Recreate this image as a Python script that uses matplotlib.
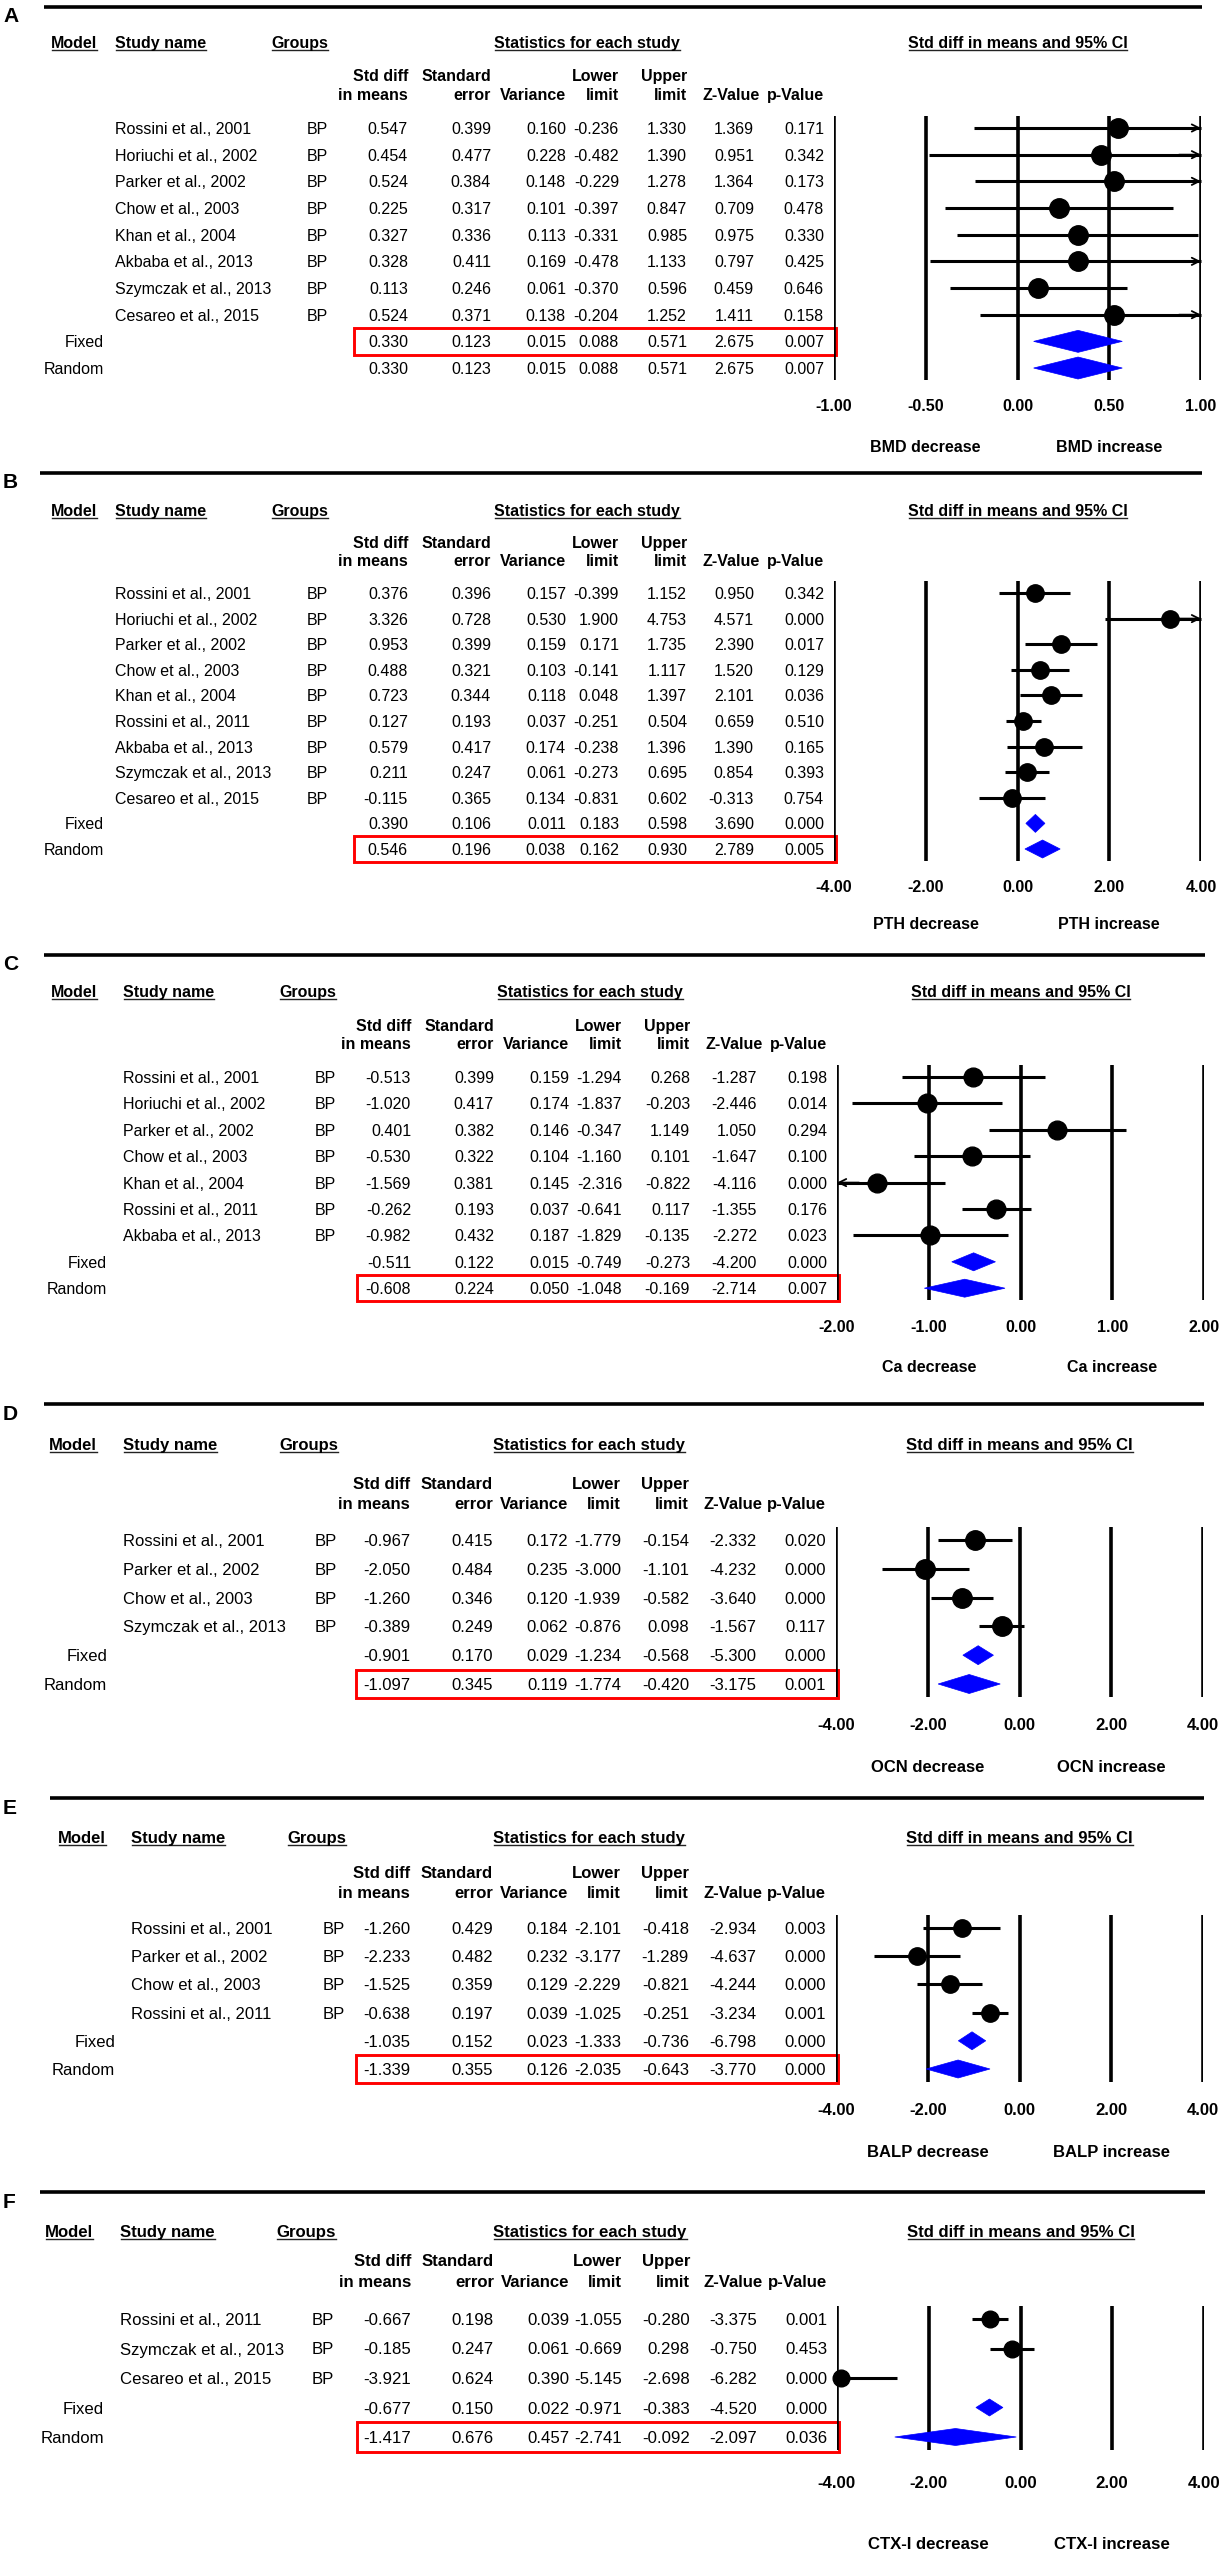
import matplotlib
matplotlib.use("Agg")
import matplotlib.pyplot as plt
from matplotlib.patches import Polygon, Rectangle

plt.rcParams['font.family'] = ['Liberation Sans', 'DejaVu Sans']

W, H, DPI = 1221, 2550, 100
PX = 72.0 / DPI  # points per pixel

# ------------------------------------------------------------------ data
MODELS = ["Fixed", "Random"]
GROUP = "BP"

A_names = ["Rossini et al., 2001", "Horiuchi et al., 2002", "Parker et al., 2002", "Chow et al., 2003",
           "Khan et al., 2004", "Akbaba et al., 2013", "Szymczak et al., 2013", "Cesareo et al., 2015"]
A_est = [0.547, 0.454, 0.524, 0.225, 0.327, 0.328, 0.113, 0.524, 0.330, 0.330]
A_se = [0.399, 0.477, 0.384, 0.317, 0.336, 0.411, 0.246, 0.371, 0.123, 0.123]
A_var = [0.160, 0.228, 0.148, 0.101, 0.113, 0.169, 0.061, 0.138, 0.015, 0.015]
A_lo = [-0.236, -0.482, -0.229, -0.397, -0.331, -0.478, -0.370, -0.204, 0.088, 0.088]
A_hi = [1.330, 1.390, 1.278, 0.847, 0.985, 1.133, 0.596, 1.252, 0.571, 0.571]
A_z = [1.369, 0.951, 1.364, 0.709, 0.975, 0.797, 0.459, 1.411, 2.675, 2.675]
A_p = [0.171, 0.342, 0.173, 0.478, 0.330, 0.425, 0.646, 0.158, 0.007, 0.007]

B_names = ["Rossini et al., 2001", "Horiuchi et al., 2002", "Parker et al., 2002", "Chow et al., 2003",
           "Khan et al., 2004", "Rossini et al., 2011", "Akbaba et al., 2013", "Szymczak et al., 2013",
           "Cesareo et al., 2015"]
B_est = [0.376, 3.326, 0.953, 0.488, 0.723, 0.127, 0.579, 0.211, -0.115, 0.390, 0.546]
B_se = [0.396, 0.728, 0.399, 0.321, 0.344, 0.193, 0.417, 0.247, 0.365, 0.106, 0.196]
B_var = [0.157, 0.530, 0.159, 0.103, 0.118, 0.037, 0.174, 0.061, 0.134, 0.011, 0.038]
B_lo = [-0.399, 1.900, 0.171, -0.141, 0.048, -0.251, -0.238, -0.273, -0.831, 0.183, 0.162]
B_hi = [1.152, 4.753, 1.735, 1.117, 1.397, 0.504, 1.396, 0.695, 0.602, 0.598, 0.930]
B_z = [0.950, 4.571, 2.390, 1.520, 2.101, 0.659, 1.390, 0.854, -0.313, 3.690, 2.789]
B_p = [0.342, 0.000, 0.017, 0.129, 0.036, 0.510, 0.165, 0.393, 0.754, 0.000, 0.005]

C_names = ["Rossini et al., 2001", "Horiuchi et al., 2002", "Parker et al., 2002", "Chow et al., 2003",
           "Khan et al., 2004", "Rossini et al., 2011", "Akbaba et al., 2013"]
C_est = [-0.513, -1.020, 0.401, -0.530, -1.569, -0.262, -0.982, -0.511, -0.608]
C_se = [0.399, 0.417, 0.382, 0.322, 0.381, 0.193, 0.432, 0.122, 0.224]
C_var = [0.159, 0.174, 0.146, 0.104, 0.145, 0.037, 0.187, 0.015, 0.050]
C_lo = [-1.294, -1.837, -0.347, -1.160, -2.316, -0.641, -1.829, -0.749, -1.048]
C_hi = [0.268, -0.203, 1.149, 0.101, -0.822, 0.117, -0.135, -0.273, -0.169]
C_z = [-1.287, -2.446, 1.050, -1.647, -4.116, -1.355, -2.272, -4.200, -2.714]
C_p = [0.198, 0.014, 0.294, 0.100, 0.000, 0.176, 0.023, 0.000, 0.007]

D_names = ["Rossini et al., 2001", "Parker et al., 2002", "Chow et al., 2003", "Szymczak et al., 2013"]
D_est = [-0.967, -2.050, -1.260, -0.389, -0.901, -1.097]
D_se = [0.415, 0.484, 0.346, 0.249, 0.170, 0.345]
D_var = [0.172, 0.235, 0.120, 0.062, 0.029, 0.119]
D_lo = [-1.779, -3.000, -1.939, -0.876, -1.234, -1.774]
D_hi = [-0.154, -1.101, -0.582, 0.098, -0.568, -0.420]
D_z = [-2.332, -4.232, -3.640, -1.567, -5.300, -3.175]
D_p = [0.020, 0.000, 0.000, 0.117, 0.000, 0.001]

E_names = ["Rossini et al., 2001", "Parker et al., 2002", "Chow et al., 2003", "Rossini et al., 2011"]
E_est = [-1.260, -2.233, -1.525, -0.638, -1.035, -1.339]
E_se = [0.429, 0.482, 0.359, 0.197, 0.152, 0.355]
E_var = [0.184, 0.232, 0.129, 0.039, 0.023, 0.126]
E_lo = [-2.101, -3.177, -2.229, -1.025, -1.333, -2.035]
E_hi = [-0.418, -1.289, -0.821, -0.251, -0.736, -0.643]
E_z = [-2.934, -4.637, -4.244, -3.234, -6.798, -3.770]
E_p = [0.003, 0.000, 0.000, 0.001, 0.000, 0.000]

F_names = ["Rossini et al., 2011", "Szymczak et al., 2013", "Cesareo et al., 2015"]
F_est = [-0.667, -0.185, -3.921, -0.677, -1.417]
F_se = [0.198, 0.247, 0.624, 0.150, 0.676]
F_var = [0.039, 0.061, 0.390, 0.022, 0.457]
F_lo = [-1.055, -0.669, -5.145, -0.971, -2.741]
F_hi = [-0.280, 0.298, -2.698, -0.383, -0.092]
F_z = [-3.375, -0.750, -6.282, -4.520, -2.097]
F_p = [0.001, 0.453, 0.000, 0.000, 0.036]

A_ticks = [-1.0, -0.5, 0.0, 0.5, 1.0]
B_ticks = [-4.0, -2.0, 0.0, 2.0, 4.0]
C_ticks = [-2.0, -1.0, 0.0, 1.0, 2.0]
D_ticks = [-4.0, -2.0, 0.0, 2.0, 4.0]
E_ticks = [-4.0, -2.0, 0.0, 2.0, 4.0]
F_ticks = [-4.0, -2.0, 0.0, 2.0, 4.0]

OUTCOMES = ["BMD", "PTH", "Ca", "OCN", "BALP", "CTX-I"]
HIGHLIGHT = ["Fixed", "Random", "Random", "Random", "Random", "Random"]

COL_HEAD1 = ["Std diff", "Standard", "", "Lower", "Upper", "", ""]
COL_HEAD2 = ["in means", "error", "Variance", "limit", "limit", "Z-Value", "p-Value"]

# ------------------------------------------------------------------ layout (pixels)
# line: top rule y; head: header y; first: first row y; sp: row spacing;
# tick / dec: offsets of tick labels / direction labels below last row
LAYOUT = {
    "A": dict(line=7, head=42, first=128, sp=26.67, tick=37, dec=78, fs=16.0, ms=14, dh=11, dx=0,
              mx=51, sx=115, fr=104, gx=271, lx0=44),
    "B": dict(line=473, head=510, first=593, sp=25.6, tick=37, dec=74, fs=16.0, ms=12.5, dh=9, dx=0,
              mx=51, sx=115, fr=104, gx=271, lx0=40),
    "C": dict(line=955, head=991, first=1077, sp=26.4, tick=38, dec=78, fs=16.0, ms=13.5, dh=9, dx=3,
              mx=51, sx=123, fr=107, gx=279, lx0=44),
    "D": dict(line=1404, head=1444, first=1540, sp=28.8, tick=40, dec=82, fs=16.6, ms=14, dh=9.5, dx=2,
              mx=49, sx=123, fr=107, gx=279, lx0=44),
    "E": dict(line=1798, head=1837, first=1928, sp=28.2, tick=40, dec=82, fs=16.6, ms=12.5, dh=9, dx=2,
              mx=58, sx=131, fr=115, gx=287, lx0=50),
    "F": dict(line=2192, head=2231, first=2319, sp=29.5, tick=45, dec=106, fs=16.8, ms=12, dh=8.5, dx=3,
              mx=45, sx=120, fr=104, gx=276, lx0=40),
}
COL_RIGHT = [408, 491, 566, 619, 687, 754, 824]
FOREST_X0, FOREST_X1 = 834, 1201

fig = plt.figure(figsize=(W / DPI, H / DPI), dpi=DPI)
bg = fig.add_axes([0, 0, 1, 1])
bg.set_xlim(0, W)
bg.set_ylim(H, 0)
bg.axis("off")
renderer = fig.canvas.get_renderer()

underline_items = []


def htext(x, y, s, fs, ha="left", underline=False):
    t = bg.text(x, y, s, fontsize=fs, fontweight="bold", ha=ha, va="center_baseline")
    if underline:
        underline_items.append(t)
    return t


def draw_panel(letter, names, est, se, var, lo, hi, z, p, ticks, outcome, highlight):
    L = LAYOUT[letter]
    fs = L["fs"] * PX
    sp = L["sp"]
    dx = L["dx"]
    labels = list(names) + MODELS
    n = len(labels)
    nst = len(names)
    yrow = [L["first"] + i * sp for i in range(n)]

    # panel letter and top rule
    bg.text(3, L["line"] + 10, letter, fontsize=21 * PX, fontweight="bold", ha="left", va="center")
    bg.plot([L["lx0"], FOREST_X1 + dx + 1], [L["line"], L["line"]], color="black", lw=2.6,
            solid_capstyle="butt")

    # headers
    htext(L["mx"], L["head"], "Model", fs, underline=True)
    htext(L["sx"], L["head"], "Study name", fs, underline=True)
    htext(L["gx"], L["head"], "Groups", fs, underline=True)
    htext(587 + dx, L["head"], "Statistics for each study", fs, ha="center", underline=True)
    htext((FOREST_X0 + FOREST_X1) / 2 + dx, L["head"], "Std diff in means and 95% CI", fs, ha="center",
          underline=True)
    y1 = L["first"] - 53 * sp / 26.67
    y2 = L["first"] - 34 * sp / 26.67
    for xr, h1, h2 in zip(COL_RIGHT, COL_HEAD1, COL_HEAD2):
        off = 6 if h2 == "Z-Value" else 0
        if h1:
            htext(xr + dx + off, y1, h1, fs, ha="right")
        htext(xr + dx + off, y2, h2, fs, ha="right")

    # table rows
    cols = [est, se, var, lo, hi, z, p]
    for i in range(n):
        y = yrow[i]
        if i < nst:
            bg.text(L["sx"], y, labels[i], fontsize=fs, ha="left", va="center_baseline")
            bg.text(L["gx"] + 36, y, GROUP, fontsize=fs, ha="left", va="center_baseline")
        else:
            bg.text(L["fr"], y, labels[i], fontsize=fs, ha="right", va="center_baseline")
        for xr, col in zip(COL_RIGHT, cols):
            bg.text(xr + dx, y, f"{col[i]:.3f}", fontsize=fs, ha="right", va="center_baseline")

    # red highlight box
    hi_i = nst + MODELS.index(highlight)
    bg.add_patch(Rectangle((354 + dx, yrow[hi_i] - sp / 2), (FOREST_X0 + 2 - 354), sp, fill=False,
                           edgecolor="#ff0000", lw=2.1))

    # forest axes
    x0, x1 = FOREST_X0 + dx, FOREST_X1 + dx
    ytop = yrow[0] - 0.45 * sp
    ybot = yrow[-1] + 0.45 * sp
    ax = fig.add_axes([x0 / W, 1 - ybot / H, (x1 - x0) / W, (ybot - ytop) / H])
    xmin, xmax = ticks[0], ticks[-1]
    ax.set_xlim(xmin, xmax)
    ax.set_ylim(n - 1 + 0.45, -0.45)
    ax.patch.set_alpha(0)
    for s in ax.spines.values():
        s.set_visible(False)
    ax.set_yticks([])
    ax.vlines(ticks, -0.45, n - 1 + 0.45, colors="black", lw=2.6)
    ax.set_xticks(ticks)
    ax.set_xticklabels([f"{t:.2f}" for t in ticks], fontsize=fs, fontweight="bold")
    ax.tick_params(axis="x", length=0, pad=(L["tick"] - 0.45 * sp - 6) * PX)

    span = xmax - xmin
    for i in range(nst):
        a = max(lo[i], xmin)
        b = min(hi[i], xmax)
        ax.plot([a, b], [i, i], color="black", lw=2.2, solid_capstyle="butt", clip_on=False)
        if hi[i] > xmax:
            ax.annotate("", xy=(xmax, i), xytext=(xmax - 0.06 * span, i),
                        arrowprops=dict(arrowstyle="->", color="black", lw=1.3, shrinkA=0, shrinkB=0,
                                        mutation_scale=13))
        if lo[i] < xmin:
            ax.annotate("", xy=(xmin, i), xytext=(xmin + 0.06 * span, i),
                        arrowprops=dict(arrowstyle="->", color="black", lw=1.3, shrinkA=0, shrinkB=0,
                                        mutation_scale=13))
        ax.plot(est[i], i, "o", color="black", ms=L["ms"], clip_on=False, zorder=5)
    dh = L["dh"] / sp
    for j in range(nst, n):
        poly = Polygon([(lo[j], j), (est[j], j - dh), (hi[j], j), (est[j], j + dh)], closed=True,
                       facecolor="#0000ff", edgecolor="#0000ff", lw=0.5, clip_on=False, zorder=5)
        ax.add_patch(poly)

    ydec = n - 1 + L["dec"] / sp
    ax.text(xmin / 2, ydec, f"{outcome} decrease", fontsize=fs, fontweight="bold", ha="center",
            va="center_baseline", clip_on=False)
    ax.text(xmax / 2, ydec, f"{outcome} increase", fontsize=fs, fontweight="bold", ha="center",
            va="center_baseline", clip_on=False)


draw_panel("A", A_names, A_est, A_se, A_var, A_lo, A_hi, A_z, A_p, A_ticks, OUTCOMES[0], HIGHLIGHT[0])
draw_panel("B", B_names, B_est, B_se, B_var, B_lo, B_hi, B_z, B_p, B_ticks, OUTCOMES[1], HIGHLIGHT[1])
draw_panel("C", C_names, C_est, C_se, C_var, C_lo, C_hi, C_z, C_p, C_ticks, OUTCOMES[2], HIGHLIGHT[2])
draw_panel("D", D_names, D_est, D_se, D_var, D_lo, D_hi, D_z, D_p, D_ticks, OUTCOMES[3], HIGHLIGHT[3])
draw_panel("E", E_names, E_est, E_se, E_var, E_lo, E_hi, E_z, E_p, E_ticks, OUTCOMES[4], HIGHLIGHT[4])
draw_panel("F", F_names, F_est, F_se, F_var, F_lo, F_hi, F_z, F_p, F_ticks, OUTCOMES[5], HIGHLIGHT[5])

# underline headers
for t in underline_items:
    bb = t.get_window_extent(renderer)
    yb = H - bb.y0 - 1
    bg.plot([bb.x0 + 1, bb.x1], [yb, yb], color="#222222", lw=1.0)

fig.savefig("out.png", dpi=DPI)
